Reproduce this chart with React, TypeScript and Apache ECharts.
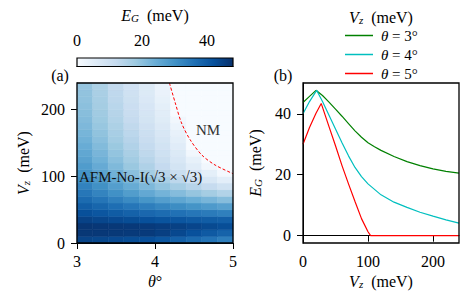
import React, { useEffect, useRef } from 'react';
import * as echarts from 'echarts';

const FONT = 'Liberation Serif, DejaVu Serif, serif';

// ---- panel (a): gap map E_G(theta, Vz) ----
const thetaCenters = [3.1, 3.3, 3.5, 3.7, 3.9, 4.1, 4.3, 4.5, 4.7, 4.9];
const vzCenters = [5, 15, 25, 35, 45, 55, 65, 75, 85, 95, 105, 115, 125, 135, 145, 155, 165, 175, 185, 195, 205, 215, 225, 235];
const gapGrid = [
  [44.4, 43.9, 43.4, 42.8, 42.3, 41.1, 39.2, 37.4, 35.6, 33.7],
  [46.6, 46.5, 46.4, 46.2, 46.1, 45.2, 43.6, 42.0, 40.3, 38.7],
  [46.9, 46.7, 46.5, 46.3, 46.1, 45.6, 44.9, 44.1, 43.3, 42.6],
  [44.7, 44.0, 43.4, 42.8, 42.1, 41.5, 41.0, 40.4, 39.8, 39.3],
  [42.2, 41.1, 40.0, 38.9, 37.8, 36.9, 36.0, 35.1, 34.2, 33.3],
  [39.6, 38.1, 36.6, 35.1, 33.6, 32.2, 30.9, 29.6, 28.3, 27.0],
  [37.2, 35.2, 33.2, 31.2, 29.2, 27.4, 25.7, 24.1, 22.5, 20.8],
  [35.0, 32.5, 30.1, 27.7, 25.2, 23.0, 21.0, 19.0, 17.0, 15.0],
  [32.9, 30.2, 27.4, 24.6, 21.9, 19.3, 16.8, 14.4, 11.9, 9.4],
  [31.0, 28.1, 25.1, 22.1, 19.2, 16.3, 13.4, 10.5, 7.6, 4.7],
  [29.5, 26.4, 23.3, 20.2, 17.1, 14.0, 10.9, 7.8, 4.6, 1.0],
  [27.9, 24.8, 21.7, 18.5, 15.4, 12.2, 8.8, 5.3, 1.5, 0],
  [26.5, 23.4, 20.3, 17.2, 14.1, 11.0, 7.5, 3.8, 0, 0],
  [25.5, 22.4, 19.3, 16.2, 13.1, 9.9, 6.5, 1.5, 0, 0],
  [24.4, 21.3, 18.3, 15.2, 12.1, 9.0, 5.5, 0, 0, 0],
  [23.4, 20.3, 17.3, 14.3, 11.2, 8.2, 4.6, 0, 0, 0],
  [22.6, 19.5, 16.5, 13.5, 10.4, 7.4, 3.6, 0, 0, 0],
  [21.8, 18.7, 15.7, 12.7, 9.6, 6.6, 2.6, 0, 0, 0],
  [21.2, 18.1, 15.0, 11.9, 8.8, 5.8, 1.4, 0, 0, 0],
  [20.6, 17.5, 14.4, 11.3, 8.2, 5.2, 0, 0, 0, 0],
  [20.1, 17.0, 13.9, 10.8, 7.7, 4.6, 0, 0, 0, 0],
  [19.7, 16.6, 13.4, 10.2, 7.1, 3.9, 0, 0, 0, 0],
  [19.4, 16.2, 13.0, 9.7, 6.5, 3.2, 0, 0, 0, 0],
  [19.0, 15.7, 12.5, 9.3, 6.0, 2.6, 0, 0, 0, 0],
];
// NM phase boundary (red dashed)
const boundaryTheta = [4.185, 4.26, 4.34, 4.45, 4.6, 4.77, 5.0];
const boundaryVz = [240, 210, 180, 155, 132, 117, 104];

// ---- panel (b): E_G vs Vz ----
const vz3 = [0, 10, 20, 30, 40, 50, 60, 70, 80, 90, 100, 110, 120, 140, 160, 180, 200, 220, 240];
const eg3 = [43.7, 45.7, 47.7, 46.0, 43.8, 41.5, 39.2, 36.8, 34.4, 32.3, 30.5, 29.2, 28.0, 26.0, 24.3, 23.0, 21.9, 21.1, 20.5];
const vz4 = [0, 10, 21, 30, 40, 50, 60, 70, 80, 90, 100, 120, 140, 160, 180, 200, 220, 240];
const eg4 = [40.0, 44.0, 47.7, 44.0, 39.5, 35.0, 30.5, 26.2, 22.4, 19.4, 17.0, 13.4, 11.0, 9.3, 7.7, 6.4, 5.2, 4.1];
const vz5 = [0, 10, 20, 28, 40, 50, 60, 70, 80, 90, 100, 104, 240];
const eg5 = [30.0, 35.5, 40.2, 43.4, 35.8, 29.5, 23.0, 17.0, 11.2, 5.6, 1.3, 0, 0];
const seriesThetas = ['3°', '4°', '5°'];
const seriesColors = ['#008000', '#00bfbf', '#ff0000'];

// ticks
const thetaTicks = [3, 4, 5];
const vzTicksA = [0, 100, 200];
const vzTicksB = [0, 100, 200];
const egTicks = [0, 20, 40];
const cbarTicks = [0, 20, 40];
const cbarMax = 48;

const BLUES = ['#f7fbff', '#deebf7', '#c6dbef', '#9ecae1', '#6baed6', '#4292c6', '#2171b5', '#08519c', '#08306b'];

const GA = { left: 77, top: 83, width: 156, height: 160 };
const GB = { left: 303, top: 83, width: 156, height: 160 };
const CB = { left: 77, top: 58, width: 156, height: 8.5 };

const rich = {
  i: { fontStyle: 'italic', fontSize: 16, fontFamily: FONT, color: '#000', lineHeight: 16 },
  s: { fontStyle: 'italic', fontSize: 11, fontFamily: FONT, color: '#000', lineHeight: 6, verticalAlign: 'bottom' },
  n: { fontSize: 16, fontFamily: FONT, color: '#000', lineHeight: 16 },
};

function axisCommon(ticks: number[], margin: number) {
  return {
    axisLine: { show: true, lineStyle: { color: '#000', width: 1 } },
    axisTick: { show: true, length: 6, inside: false, customValues: ticks, lineStyle: { color: '#000', width: 1 } },
    axisLabel: { show: true, customValues: ticks, fontFamily: FONT, fontSize: 16, color: '#000', margin },
    splitLine: { show: false },
  };
}

export default function App() {
  const ref = useRef<HTMLDivElement>(null);
  useEffect(() => {
    if (!ref.current) return;
    const chart = echarts.init(ref.current, null, { renderer: 'svg' });

    const dTh = thetaCenters[1] - thetaCenters[0];
    const dVz = vzCenters[1] - vzCenters[0];
    const heat: number[][] = [];
    vzCenters.forEach((vz, r) => thetaCenters.forEach((th, c) => heat.push([th, vz, gapGrid[r][c]])));

    const lineSets = [
      vz3.map((v, i) => [v, eg3[i]]),
      vz4.map((v, i) => [v, eg4[i]]),
      vz5.map((v, i) => [v, eg5[i]]),
    ];

    const option: any = {
      animation: false,
      backgroundColor: '#fff',
      textStyle: { fontFamily: FONT },
      grid: [
        { ...GA, containLabel: false },
        { ...GB, containLabel: false },
        { ...CB, containLabel: false },
      ],
      xAxis: [
        {
          gridIndex: 0, type: 'value', min: 3, max: 5, ...axisCommon(thetaTicks, 10),
          name: '{i|θ}{n|°}', nameLocation: 'middle', nameGap: 30,
          nameTextStyle: { rich },
        },
        {
          gridIndex: 1, type: 'value', min: 0, max: 240, ...axisCommon(vzTicksB, 10),
          name: '{i|V}{s|z}{n|  (meV)}', nameLocation: 'middle', nameGap: 30,
          nameTextStyle: { rich },
        },
        {
          gridIndex: 2, type: 'value', min: 0, max: cbarMax, position: 'top', ...axisCommon(cbarTicks, 10),
        },
      ],
      yAxis: [
        {
          gridIndex: 0, type: 'value', min: 0, max: 240, ...axisCommon(vzTicksA, 12),
          name: '{i|V}{s|z}{n|  (meV)}', nameLocation: 'middle', nameGap: 46, nameRotate: 90,
          nameTextStyle: { rich },
        },
        {
          gridIndex: 1, type: 'value', min: -2.4, max: 50.1, ...axisCommon(egTicks, 12),
          name: '{i|E}{s|G}{n|  (meV)}', nameLocation: 'middle', nameGap: 40, nameRotate: 90,
          nameTextStyle: { rich },
        },
        {
          gridIndex: 2, type: 'value', min: 0, max: 1, show: false,
        },
      ],
      visualMap: {
        type: 'continuous', show: false, min: 0, max: cbarMax, dimension: 2, seriesIndex: 0,
        inRange: { color: BLUES },
      },
      legend: {
        orient: 'vertical', left: 340, top: 23, itemWidth: 28, itemHeight: 1.5, itemGap: 4,
        icon: 'rect',
        data: seriesThetas.map((t) => 'θ = ' + t),
        formatter: (name: string) => `{pad|}{i|θ}{n| = ${name.slice(4)}}`,
        textStyle: {
          fontFamily: FONT, fontSize: 15, color: '#000',
          rich: {
            pad: { width: 3 },
            i: { fontStyle: 'italic', fontSize: 15, fontFamily: FONT, lineHeight: 16, color: '#000' },
            n: { fontSize: 15, fontFamily: FONT, lineHeight: 16, color: '#000' },
          },
        },
      },
      series: [
        {
          type: 'custom', xAxisIndex: 0, yAxisIndex: 0, data: heat, encode: { x: 0, y: 1 },
          renderItem: (params: any, api: any) => {
            const th = api.value(0);
            const vz = api.value(1);
            const p0 = api.coord([th - dTh / 2, vz + dVz / 2]);
            const p1 = api.coord([th + dTh / 2, vz - dVz / 2]);
            const col = api.visual('color');
            return {
              type: 'rect',
              shape: { x: p0[0], y: p0[1], width: p1[0] - p0[0], height: p1[1] - p0[1] },
              style: { fill: col, stroke: col, lineWidth: 0.6 },
            };
          },
          z: 1,
        },
        {
          type: 'line', xAxisIndex: 0, yAxisIndex: 0, showSymbol: false, smooth: 0.3,
          data: boundaryTheta.map((t, i) => [t, boundaryVz[i]]),
          lineStyle: { color: '#ff0000', width: 1, type: [3, 2] }, z: 3, silent: true,
        },
        ...lineSets.map((d, k) => ({
          type: 'line', name: 'θ = ' + seriesThetas[k], xAxisIndex: 1, yAxisIndex: 1, showSymbol: false,
          data: d, lineStyle: { color: seriesColors[k], width: 1.2 }, itemStyle: { color: seriesColors[k] }, z: 3,
        })),
      ],
      graphic: [
        { type: 'rect', shape: { x: CB.left, y: CB.top, width: CB.width, height: CB.height }, z: 50, style: { fill: new echarts.graphic.LinearGradient(0, 0, 1, 0, BLUES.map((c, i) => ({ offset: i / (BLUES.length - 1), color: c }))), stroke: '#000', lineWidth: 1.2 } },
        { type: 'rect', shape: { x: GA.left, y: GA.top, width: GA.width, height: GA.height }, z: 50, style: { fill: 'none', stroke: '#000', lineWidth: 1.3 } },
        { type: 'rect', shape: { x: GB.left, y: GB.top, width: GB.width, height: GB.height }, z: 50, style: { fill: 'none', stroke: '#000', lineWidth: 1.3 } },
        { type: 'text', x: 155, y: 15, z: 60, style: { text: '{i|E}{s|G}{n|  (meV)}', rich, align: 'center', verticalAlign: 'middle' } },
        { type: 'text', x: 381, y: 17, z: 60, style: { text: '{i|V}{s|z}{n|  (meV)}', rich, align: 'center', verticalAlign: 'middle' } },
        { type: 'text', x: 60, y: 75, z: 60, style: { text: '(a)', fontFamily: FONT, fontSize: 16, fill: '#000', align: 'center', verticalAlign: 'middle' } },
        { type: 'text', x: 283, y: 75, z: 60, style: { text: '(b)', fontFamily: FONT, fontSize: 16, fill: '#000', align: 'center', verticalAlign: 'middle' } },
        { type: 'text', x: 208, y: 130, z: 60, style: { text: 'NM', fontFamily: FONT, fontSize: 15, fill: '#333', align: 'center', verticalAlign: 'middle' } },
        { type: 'text', x: 79, y: 177, z: 60, style: { text: 'AFM-No-I(√3 × √3)', fontFamily: FONT, fontSize: 15, fill: '#111', align: 'left', verticalAlign: 'middle' } },
      ],
    };
    chart.setOption(option);
    return () => chart.dispose();
  }, []);
  return <div ref={ref} style={{ width: 470, height: 298, position: 'absolute', left: 0, top: 0 }} />;
}
